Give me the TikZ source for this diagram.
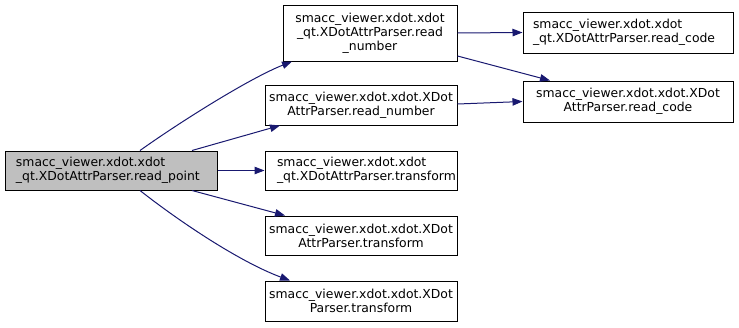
\documentclass[tikz,border=0pt]{standalone}
\usepackage{fontspec}
\setmainfont{DejaVu Sans}
\usetikzlibrary{arrows.meta}
\definecolor{callblue}{HTML}{191970}
\definecolor{focusgray}{HTML}{BFBFBF}
\tikzset{
  fn/.style={draw=black, line width=1pt, rectangle, inner ysep=0pt,
    font=\fontsize{12.4}{14}\selectfont},
  call/.style={callblue, line width=1pt, -{Triangle[length=10pt,width=7.5pt]}}
}
\begin{document}
\begin{tikzpicture}[x=1pt,y=-1pt]
  \useasboundingbox (0,0) rectangle (739,327);
  % --- the function whose calls are shown
  \node[fn, fill=focusgray, inner xsep=11pt, text width=190pt, minimum height=39pt, align=left]
    (rp) at (111,170.5) {smacc\_viewer.xdot.xdot\\\_qt.XDotAttrParser.read\_point};
  % --- first level callees
  \node[fn, inner xsep=4pt, text width=166pt, minimum height=56pt, align=center]
    (qrn) at (370,33) {smacc\_viewer.xdot.xdot\\\_qt.XDotAttrParser.read\\\_number};
  \node[fn, inner xsep=2pt, text width=188pt, minimum height=40pt, align=center]
    (rn) at (361,105) {smacc\_viewer.xdot.xdot.XDot\\AttrParser.read\_number};
  \node[fn, inner xsep=12pt, text width=168pt, minimum height=39pt, align=left]
    (qtf) at (361,170.5) {smacc\_viewer.xdot.xdot\\\_qt.XDotAttrParser.transform};
  \node[fn, inner xsep=2pt, text width=188pt, minimum height=39pt, align=center]
    (tf) at (361,235.5) {smacc\_viewer.xdot.xdot.XDot\\AttrParser.transform};
  \node[fn, inner xsep=2pt, text width=188pt, minimum height=40pt, align=center]
    (ptf) at (361,301) {smacc\_viewer.xdot.xdot.XDot\\Parser.transform};
  % --- second level: the code readers
  \node[fn, inner xsep=10pt, text width=190pt, minimum height=41pt, align=left]
    (qrc) at (628,32.5) {smacc\_viewer.xdot.xdot\\\_qt.XDotAttrParser.read\_code};
  \node[fn, inner xsep=2pt, text width=206pt, minimum height=41pt, align=center]
    (rc) at (628,101.5) {smacc\_viewer.xdot.xdot.XDot\\AttrParser.read\_code};
  % --- calls out of read_point
  \draw[call] ([xshift=29pt]rp.north) .. controls (180,122) and (250,78) .. ([xshift=-78pt]qrn.south);
  \draw[call] ([xshift=81pt]rp.north) -- ([xshift=-81pt]rn.south);
  \draw[call] (rp.east) -- (qtf.west);
  \draw[call] ([xshift=81pt]rp.south) -- ([xshift=-76pt]tf.north);
  \draw[call] ([xshift=29pt]rp.south) .. controls (180,222) and (240,262) .. ([xshift=-71pt]ptf.north);
  % --- calls out of the two read_number variants
  \draw[call] (qrn.east) -- (qrc.west);
  \draw[call] ([yshift=-23pt]qrn.east) -- ([xshift=-78pt]rc.north);
  \draw[call] ([yshift=1pt]rn.east) -- (rc.west);
\end{tikzpicture}
\end{document}
